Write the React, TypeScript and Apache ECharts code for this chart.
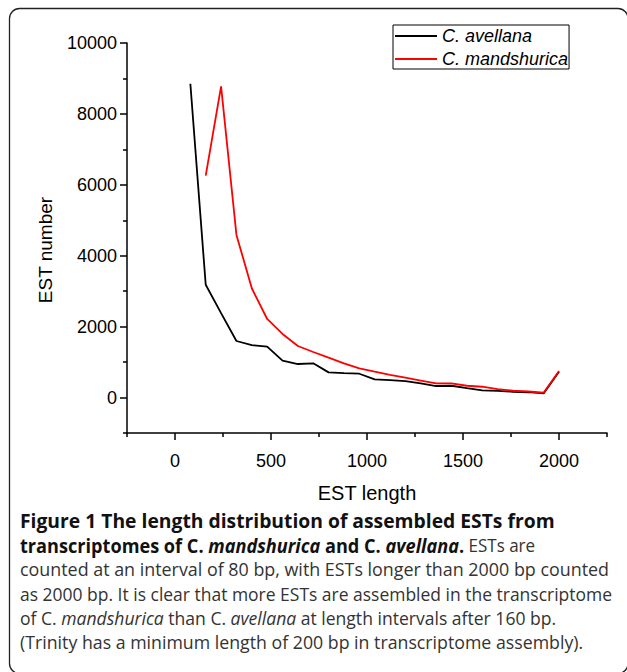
import React, { useEffect, useRef } from "react";
import * as echarts from "echarts";

const lengths = [80, 160, 240, 320, 400, 480, 560, 640, 720, 800, 880, 960, 1040, 1120, 1200, 1280, 1360, 1440, 1520, 1600, 1680, 1760, 1840, 1920, 2000];
const avellana = [8850, 3180, 2380, 1595, 1480, 1435, 1040, 946, 965, 710, 690, 672, 510, 490, 466, 400, 325, 333, 265, 203, 190, 164, 150, 118, 729];
const mandshurica = [null, 6262, 8775, 4588, 3083, 2216, 1793, 1454, 1285, 1124, 965, 824, 730, 640, 560, 480, 400, 400, 333, 305, 240, 192, 170, 136, 748];

const seriesNames = ["C. avellana", "C. mandshurica"];
const xMajorTicks = [0, 500, 1000, 1500, 2000];
const xMinorTicks = [-250, 250, 750, 1250, 1750, 2250];
const yMajorTicks = [0, 2000, 4000, 6000, 8000, 10000];
const yMinorTicks = [-1000, 1000, 3000, 5000, 7000, 9000];
const xTitle = "EST length";
const yTitle = "EST number";

const captionLines = [
  "{b|Figure 1 The length distribution of assembled ESTs from}",
  "{b|transcriptomes of C. }{bi|mandshurica}{b| and C. }{bi|avellana}{b|.}{r| ESTs are}",
  "{r|counted at an interval of 80 bp, with ESTs longer than 2000 bp counted}",
  "{r|as 2000 bp. It is clear that more ESTs are assembled in the transcriptome}",
  "{r|of C. }{i|mandshurica}{r| than C. }{i|avellana}{r| at length intervals after 160 bp.}",
  "{r|(Trinity has a minimum length of 200 bp in transcriptome assembly).}",
];
// right end (px) of each caption line in the reference layout
const captionLineEnds = [555, 535, 609, 612, 556, 583];

const FONT = "'Liberation Sans', Arial, Helvetica, sans-serif";
const CAP_FONT = "'Open Sans', 'Noto Sans', sans-serif";

export default function App() {
  const ref = useRef<HTMLDivElement>(null);
  useEffect(() => {
    const chart = echarts.init(ref.current!, null, { renderer: "svg" });
    const toPairs = (vals: (number | null)[]) =>
      lengths.map((x, i) => [x, vals[i]]).filter((p) => p[1] !== null);
    const regSize = 17.8;
    const boldSize = 19;
    const styles: Record<string, any> = {
      b: { fontSize: boldSize, fontWeight: "bold", fontStyle: "normal", fill: "#111" },
      bi: { fontSize: boldSize, fontWeight: "bold", fontStyle: "italic", fill: "#111" },
      r: { fontSize: regSize, fontWeight: "normal", fontStyle: "normal", fill: "#333" },
      i: { fontSize: regSize, fontWeight: "normal", fontStyle: "italic", fill: "#333" },
    };
    const ctx = document.createElement("canvas").getContext("2d")!;
    const measure = (s: any, t: string) => {
      ctx.font = `${s.fontStyle} ${s.fontWeight} ${s.fontSize}px ${CAP_FONT}`;
      return ctx.measureText(t).width;
    };
    const capX = 20;
    const captionGroups = captionLines.map((line, li) => {
      const re = /\{(\w+)\|([^}]*)\}/g;
      let m: RegExpExecArray | null;
      let offset = 0;
      const children: any[] = [];
      while ((m = re.exec(line))) {
        const s = styles[m[1]];
        const txt = m[2];
        const lead = (txt.match(/^\s*/) || [""])[0];
        const body = txt.slice(lead.length);
        const x = offset + (lead ? measure(s, lead) : 0);
        if (body) {
          children.push({
            type: "text",
            x,
            y: 0,
            style: {
              text: body,
              fontFamily: CAP_FONT,
              fontSize: s.fontSize,
              fontWeight: s.fontWeight,
              fontStyle: s.fontStyle,
              fill: s.fill,
              align: "left",
              verticalAlign: "middle",
            },
          });
        }
        offset += measure(s, txt);
      }
      const sx = offset > 0 ? (captionLineEnds[li] - capX) / offset : 1;
      return { type: "group", x: capX, y: 521 + li * 24.2, scaleX: sx, children };
    });
    const plain = (v: number) => String(v);
    chart.setOption({
      animation: false,
      backgroundColor: "#fff",
      grid: { left: 127, top: 43, width: 480, height: 390, containLabel: false },
      legend: {
        orient: "vertical",
        left: 393,
        top: 25,
        padding: [1, 1, 0, 2],
        icon: "rect",
        itemWidth: 42,
        itemHeight: 2,
        itemGap: 3,
        borderColor: "#000",
        borderWidth: 1,
        borderRadius: 0,
        textStyle: { fontFamily: FONT, fontSize: 18, fontStyle: "italic", color: "#000", lineHeight: 20 },
        data: seriesNames,
      },
      xAxis: [
        {
          type: "value",
          min: -250,
          max: 2250,
          position: "bottom",
          splitLine: { show: false },
          axisLine: { show: true, onZero: false, lineStyle: { color: "#000", width: 1.5 } },
          axisTick: { show: true, customValues: xMajorTicks, length: 7, lineStyle: { color: "#000", width: 1.5 } },
          axisLabel: { customValues: xMajorTicks, formatter: plain, fontFamily: FONT, fontSize: 18, color: "#000", margin: 19 },
        },
        {
          type: "value",
          min: -250,
          max: 2250,
          position: "bottom",
          splitLine: { show: false },
          axisLine: { show: false, onZero: false },
          axisTick: { show: true, customValues: xMinorTicks, length: 4, lineStyle: { color: "#000", width: 1.5 } },
          axisLabel: { show: false },
        },
      ],
      yAxis: [
        {
          type: "value",
          min: -1000,
          max: 10000,
          position: "left",
          splitLine: { show: false },
          axisLine: { show: true, onZero: false, lineStyle: { color: "#000", width: 1.5 } },
          axisTick: { show: true, customValues: yMajorTicks, length: 7, lineStyle: { color: "#000", width: 1.5 } },
          axisLabel: { customValues: yMajorTicks, formatter: plain, fontFamily: FONT, fontSize: 18, color: "#000", margin: 10 },
        },
        {
          type: "value",
          min: -1000,
          max: 10000,
          position: "left",
          splitLine: { show: false },
          axisLine: { show: false, onZero: false },
          axisTick: { show: true, customValues: yMinorTicks, length: 4, lineStyle: { color: "#000", width: 1.5 } },
          axisLabel: { show: false },
        },
      ],
      series: [
        {
          name: seriesNames[0],
          type: "line",
          xAxisIndex: 0,
          yAxisIndex: 0,
          symbol: "none",
          data: toPairs(avellana),
          lineStyle: { color: "#000", width: 1.8 },
          itemStyle: { color: "#000" },
        },
        {
          name: seriesNames[1],
          type: "line",
          xAxisIndex: 0,
          yAxisIndex: 0,
          symbol: "none",
          data: toPairs(mandshurica),
          lineStyle: { color: "#ff0000", width: 1.8 },
          itemStyle: { color: "#ff0000" },
        },
      ],
      graphic: [
        {
          type: "rect",
          z: -10,
          shape: { x: 9.5, y: 8.5, width: 618.5, height: 665, r: 10 },
          style: { fill: "none", stroke: "#222", lineWidth: 1.3 },
        },
        {
          type: "text",
          x: 367,
          y: 493,
          style: { text: xTitle, fontFamily: FONT, fontSize: 20, fill: "#000", align: "center", verticalAlign: "middle" },
        },
        {
          type: "text",
          x: 45,
          y: 250,
          rotation: Math.PI / 2,
          style: { text: yTitle, fontFamily: FONT, fontSize: 19, fill: "#000", align: "center", verticalAlign: "middle" },
        },
        ...captionGroups,
      ],
    });
    return () => chart.dispose();
  }, []);
  return (
    <div
      ref={ref}
      style={{ position: "absolute", left: 0, top: 0, width: 627, height: 672, background: "#fff" }}
    />
  );
}
